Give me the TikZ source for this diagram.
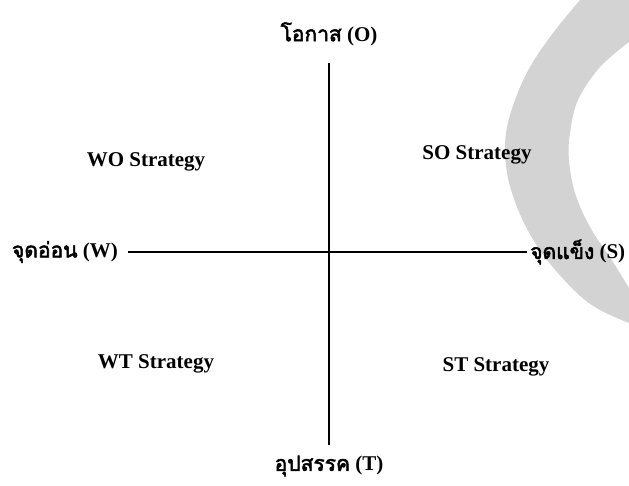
\documentclass[tikz,border=0pt]{standalone}
\usepackage{fontspec}
\setmainfont{Liberation Serif}
\newfontfamily\thaifont[Script=Thai,AutoFakeBold=2.5]{Loma}
\definecolor{bandgray}{RGB}{211,211,211}
\tikzset{
  lbl/.style={font=\bfseries\fontsize{21}{24}\selectfont, inner sep=0pt},
  thl/.style={font=\fontsize{21}{24}\selectfont\bfseries, inner sep=0pt},
  axis/.style={line width=1.2pt, black},
}
\newcommand{\thtxt}[1]{{\thaifont\bfseries #1}}
\begin{document}
\begin{tikzpicture}[x=1pt,y=-1pt]
\useasboundingbox (0,0) rectangle (629,486);
% grey band
\fill[bandgray] plot[smooth, tension=0.6] coordinates {(580,0) (553,33) (530,67) (515,100) (506,133) (506,165) (512,193) (526,227) (547,260) (577,293) (600,310) (629,323)}
  -- (629,288)
  -- plot[smooth, tension=0.6] coordinates {(629,288) (613,262) (590,227) (575,193) (569,160) (570,133) (578,100) (600,67) (629,42)}
  -- (629,0) -- cycle;
% axes
\coordinate (top) at (329,63);
\coordinate (bot) at (329,445);
\coordinate (lft) at (128,252);
\coordinate (rgt) at (527,252);
\draw[axis] (top) -- (bot);
\draw[axis] (lft) -- (rgt);
% axis labels
\node[thl] (o) at (329,34) {\thtxt{โอกาส} (O)};
\node[thl] (t) at (329,466) {\thtxt{อุปสรรค} (T)};
\node[thl, anchor=east] (w) at (118,252) {\thtxt{จุดอ่อน} (W)};
\node[thl, anchor=west] (s) at (530,252) {\thtxt{จุดแข็ง} (S)};
% quadrant labels
\node[lbl] (wo) at (146,162) {WO Strategy};
\node[lbl] (so) at (477,155) {SO Strategy};
\node[lbl] (wt) at (156,364) {WT Strategy};
\node[lbl] (st) at (496,367) {ST Strategy};
\end{tikzpicture}
\end{document}
